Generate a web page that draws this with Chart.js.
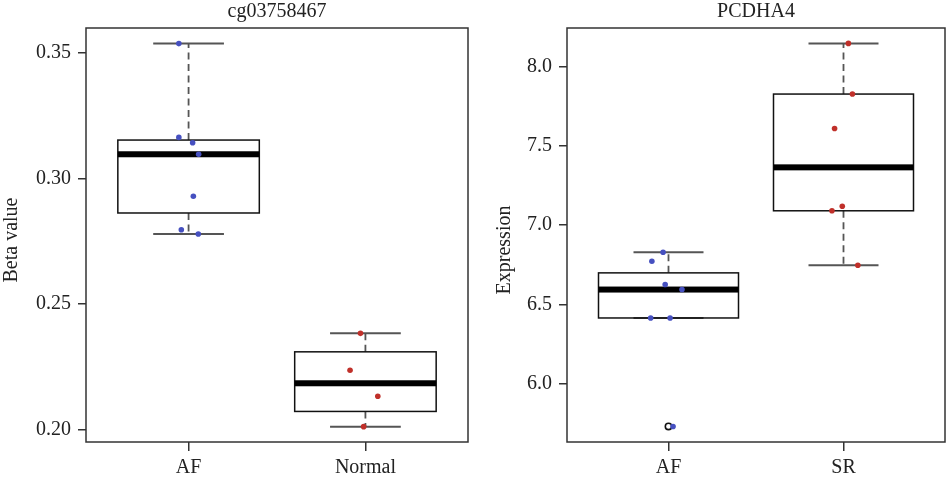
<!DOCTYPE html>
<html>
<head>
<meta charset="utf-8">
<script src="https://cdn.jsdelivr.net/npm/chart.js@4/dist/chart.umd.min.js"></script>
<style>
  html, body { margin: 0; padding: 0; background: #fff; }
  #wrap { position: relative; width: 949px; height: 481px; }
  .pane { position: absolute; top: 0; height: 481px; }
  #left { left: 0; width: 474px; }
  #right { left: 474px; width: 475px; }
</style>
</head>
<body>
<div id="wrap">
  <div class="pane" id="left"><canvas id="chartLeft"></canvas></div>
  <div class="pane" id="right"><canvas id="chartRight"></canvas></div>
</div>
<script>
// cg03758467 panel
const leftTitle = 'cg03758467';
const leftYLabel = 'Beta value';
const leftGroups = ['AF', 'Normal'];
const leftYTicks = [0.20, 0.25, 0.30, 0.35];
const leftAF = [0.3536, 0.3163, 0.3142, 0.3096, 0.2929, 0.2796, 0.2779];
const leftAFJitter = [-0.055, -0.055, 0.023, 0.057, 0.027, -0.041, 0.055];
const leftNormal = [0.2384, 0.2237, 0.2134, 0.2013];
const leftNormalJitter = [-0.028, -0.087, 0.070, -0.010];

// PCDHA4 panel
const rightTitle = 'PCDHA4';
const rightYLabel = 'Expression';
const rightGroups = ['AF', 'SR'];
const rightYTicks = [6.0, 6.5, 7.0, 7.5, 8.0];
const rightAF = [6.830, 6.773, 6.627, 6.595, 6.416, 6.416, 5.733];
const rightAFJitter = [-0.031, -0.095, -0.019, 0.077, -0.102, 0.009, 0.026];
const rightSR = [8.145, 7.826, 7.609, 7.120, 7.091, 6.748];
const rightSRJitter = [0.028, 0.051, -0.051, -0.007, -0.066, 0.082];

const BLUE = '#4650c0';
const RED = '#c0302a';
const FONT = "'Liberation Serif', 'DejaVu Serif', serif";

// R style boxplot stats: Tukey hinges, whiskers at 1.5 IQR
function median(a) {
  const n = a.length, m = Math.floor(n / 2);
  return n % 2 ? a[m] : (a[m - 1] + a[m]) / 2;
}
function boxStats(values) {
  const s = values.slice().sort((a, b) => a - b);
  const n = s.length;
  const half = Math.floor((n + 1) / 2);
  const q1 = median(s.slice(0, half));
  const q3 = median(s.slice(n - half));
  const med = median(s);
  const iqr = q3 - q1;
  const lo = s.find(v => v >= q1 - 1.5 * iqr);
  const hi = s.slice().reverse().find(v => v <= q3 + 1.5 * iqr);
  const out = s.filter(v => v < lo || v > hi);
  return { q1, q3, med, lo, hi, out };
}

const boxPlugin = {
  id: 'boxes',
  beforeDatasetsDraw(chart) {
    const { ctx, chartArea, scales: { x, y } } = chart;
    const opts = chart.options.plugins.boxes;
    ctx.save();
    opts.groups.forEach((vals, i) => {
      const st = boxStats(vals);
      const c = i + 1;
      const xl = x.getPixelForValue(c - 0.4), xr = x.getPixelForValue(c + 0.4);
      const cl = x.getPixelForValue(c - 0.2), cr = x.getPixelForValue(c + 0.2);
      const xc = x.getPixelForValue(c);
      // whiskers
      ctx.strokeStyle = '#555';
      ctx.lineWidth = 1.8;
      ctx.setLineDash([7, 4.5]);
      ctx.beginPath();
      ctx.moveTo(xc, y.getPixelForValue(st.q3)); ctx.lineTo(xc, y.getPixelForValue(st.hi));
      ctx.moveTo(xc, y.getPixelForValue(st.q1)); ctx.lineTo(xc, y.getPixelForValue(st.lo));
      ctx.stroke();
      ctx.setLineDash([]);
      ctx.lineWidth = 2;
      ctx.beginPath();
      ctx.moveTo(cl, y.getPixelForValue(st.hi)); ctx.lineTo(cr, y.getPixelForValue(st.hi));
      ctx.moveTo(cl, y.getPixelForValue(st.lo)); ctx.lineTo(cr, y.getPixelForValue(st.lo));
      ctx.stroke();
      // box
      ctx.strokeStyle = '#111';
      ctx.lineWidth = 1.5;
      const yt = y.getPixelForValue(st.q3), yb = y.getPixelForValue(st.q1);
      ctx.strokeRect(xl, yt, xr - xl, yb - yt);
      // median
      ctx.fillStyle = '#000';
      const ym = y.getPixelForValue(st.med);
      ctx.fillRect(xl, ym - 3, xr - xl, 6);
      // outliers
      ctx.lineWidth = 1.6;
      st.out.forEach(v => {
        ctx.beginPath();
        ctx.arc(xc, y.getPixelForValue(v), 3.2, 0, Math.PI * 2);
        ctx.stroke();
      });
    });
    // frame
    ctx.strokeStyle = '#333';
    ctx.lineWidth = 1.5;
    ctx.strokeRect(chartArea.left, chartArea.top, chartArea.right - chartArea.left, chartArea.bottom - chartArea.top);
    // titles centred on the plot region, as R does
    ctx.fillStyle = '#222';
    ctx.font = '20px ' + FONT;
    ctx.textAlign = 'center';
    ctx.textBaseline = 'middle';
    ctx.fillText(opts.title, (chartArea.left + chartArea.right) / 2, 12);
    ctx.translate(opts.yLabelX, (chartArea.top + chartArea.bottom) / 2 + opts.yLabelShift);
    ctx.rotate(-Math.PI / 2);
    ctx.fillText(opts.yLabel, 0, 0);
    ctx.restore();
  }
};

function points(vals, jitter, cat) {
  return vals.map((v, i) => ({ x: cat + jitter[i], y: v }));
}

function makeChart(id, cfg) {
  const [yMin, yMax] = cfg.yRange;
  return new Chart(document.getElementById(id), {
    type: 'scatter',
    data: {
      datasets: [
        { data: points(cfg.groups[0], cfg.jitter[0], 1), backgroundColor: BLUE, borderWidth: 0, pointRadius: 2.8 },
        { data: points(cfg.groups[1], cfg.jitter[1], 2), backgroundColor: RED, borderWidth: 0, pointRadius: 2.8 }
      ]
    },
    options: {
      responsive: false,
      animation: false,
      layout: { padding: { right: cfg.padRight, top: 28, bottom: 0, left: 0 } },
      plugins: {
        legend: { display: false },
        tooltip: { enabled: false },
        title: { display: false },
        boxes: {
          groups: cfg.groups, title: cfg.title, yLabel: cfg.yLabel,
          yLabelX: cfg.yLabelX, yLabelShift: cfg.yLabelShift
        }
      },
      scales: {
        x: {
          type: 'linear', min: 0.42, max: 2.58,
          afterBuildTicks: s => { s.ticks = [{ value: 1 }, { value: 2 }]; },
          afterFit: s => { s.height = 39; },
          ticks: {
            callback: v => cfg.names[v - 1], color: '#222', padding: 5,
            font: { family: FONT, size: 20 }, maxRotation: 0
          },
          grid: { drawOnChartArea: false, tickLength: 9, tickColor: '#333', lineWidth: 1.5 },
          border: { display: false }
        },
        y: {
          type: 'linear', min: yMin, max: yMax,
          afterBuildTicks: s => { s.ticks = cfg.yTicks.map(v => ({ value: v })); },
          afterFit: s => { s.width = cfg.yWidth; },
          ticks: {
            callback: v => v.toFixed(cfg.digits), color: '#222', padding: 7,
            font: { family: FONT, size: 20 }
          },
          grid: { drawOnChartArea: false, tickLength: 8, tickColor: '#333', lineWidth: 1.5 },
          border: { display: false }
        }
      }
    },
    plugins: [boxPlugin]
  });
}

const cl = document.getElementById('chartLeft');
cl.width = 474; cl.height = 481;
const cr = document.getElementById('chartRight');
cr.width = 475; cr.height = 481;

makeChart('chartLeft', {
  title: leftTitle, yLabel: leftYLabel, names: leftGroups, yTicks: leftYTicks, digits: 2,
  groups: [leftAF, leftNormal], jitter: [leftAFJitter, leftNormalJitter],
  yRange: [0.1952, 0.3598], yWidth: 86, padRight: 6, yLabelX: 12, yLabelShift: 5
});
makeChart('chartRight', {
  title: rightTitle, yLabel: rightYLabel, names: rightGroups, yTicks: rightYTicks, digits: 1,
  groups: [rightAF, rightSR], jitter: [rightAFJitter, rightSRJitter],
  yRange: [5.635, 8.242], yWidth: 93, padRight: 1, yLabelX: 31, yLabelShift: 15
});
</script>
</body>
</html>
